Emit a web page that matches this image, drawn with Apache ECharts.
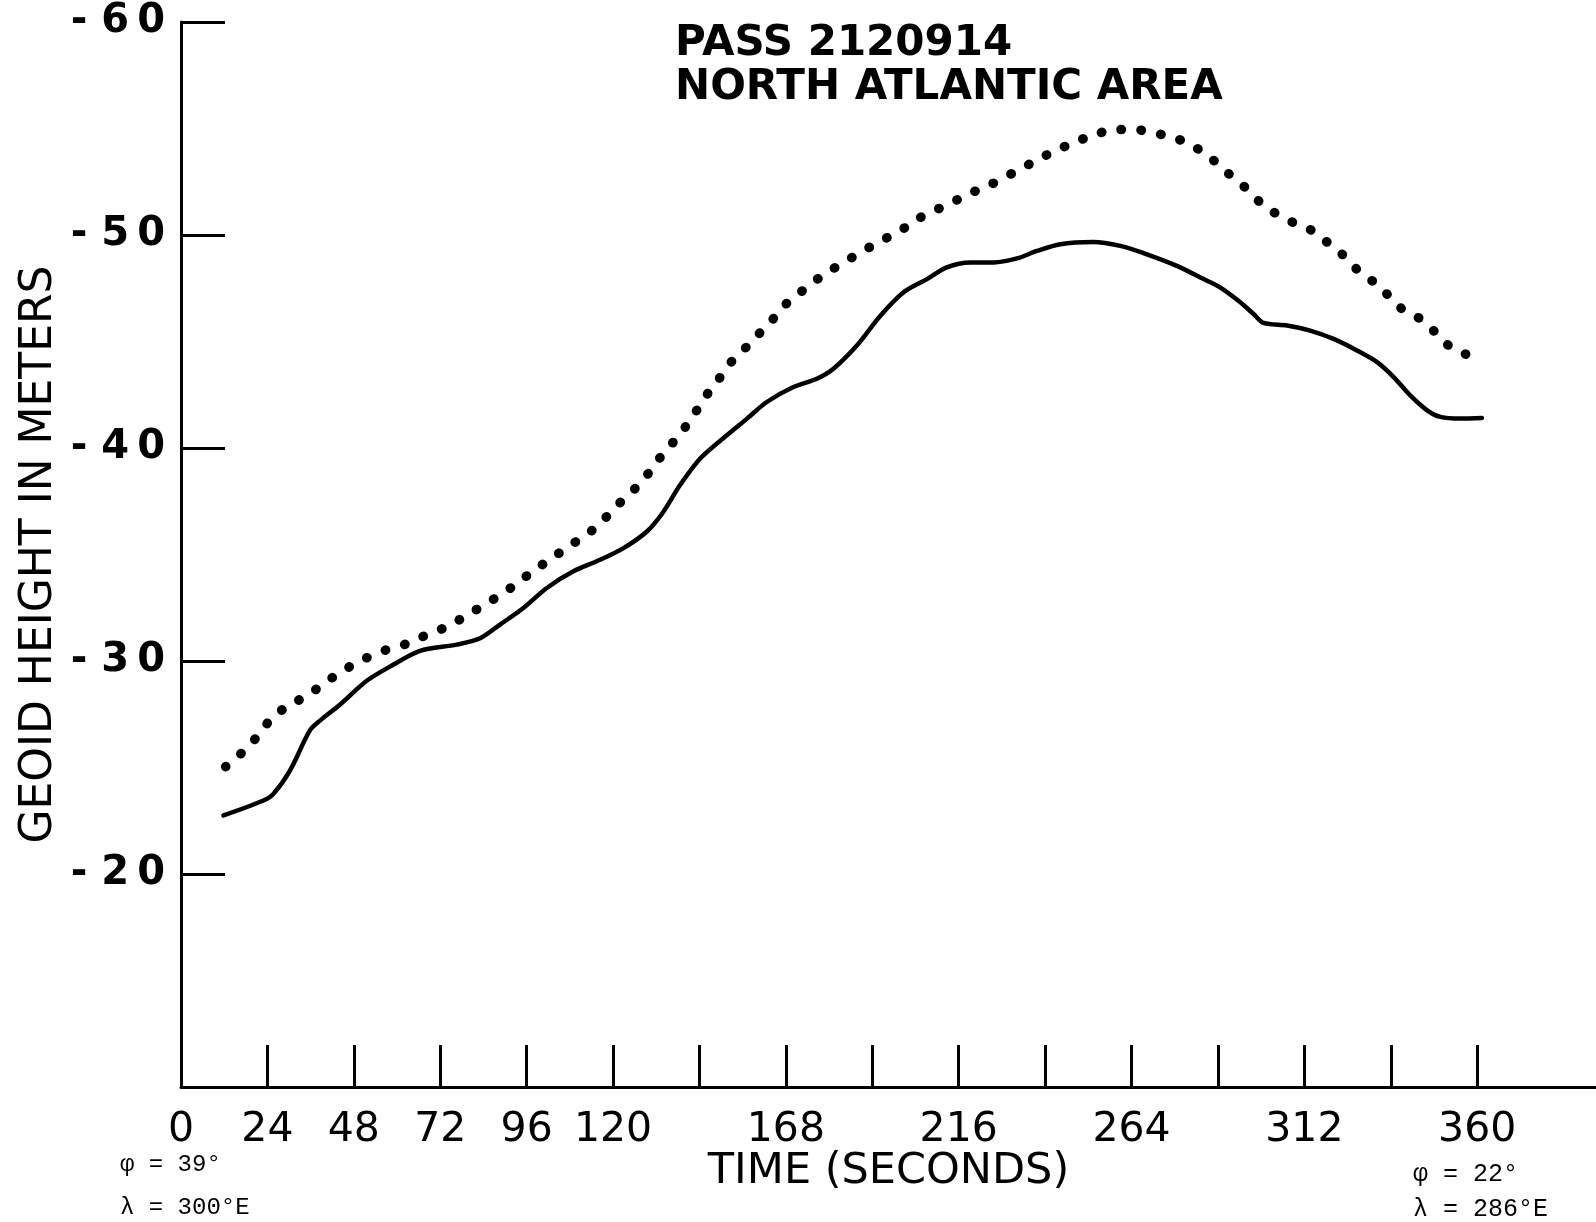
<!DOCTYPE html>
<html>
<head>
<meta charset="utf-8">
<title>Pass 2120914</title>
<script src="https://cdn.jsdelivr.net/npm/echarts@6/dist/echarts.min.js"></script>
<style>
  html, body { margin: 0; padding: 0; background: #fff; }
  #chart { width: 1596px; height: 1222px; }
</style>
</head>
<body>
<div id="chart"></div>
<script>
// solid curve
var solidTime = [11.8, 22.9, 25.6, 30.3, 35.8, 38.6, 44.2, 51.6, 58.9, 66.4, 76.6, 83.1, 88.6, 95.1,
  101.6, 109.0, 116.4, 122.9, 129.4, 134.0, 138.6, 144.2, 151.6, 157.2, 162.7, 170.1, 176.6, 181.2,
  187.7, 194.2, 200.7, 207.2, 212.7, 219.2, 225.7, 232.2, 237.7, 244.2, 253.4, 260.9, 267.3, 276.6,
  284.0, 288.6, 294.2, 297.9, 300.7, 307.2, 313.6, 320.1, 326.6, 332.2, 336.8, 341.4, 346.1, 349.8,
  355.3, 361.3]
var solidHeight = [-22.75, -23.45, -23.75, -24.87, -26.74, -27.2, -27.96, -29.07, -29.82, -30.48, -30.77, -31.07, -31.71, -32.49,
  -33.43, -34.21, -34.75, -35.3, -36.08, -37.01, -38.26, -39.51, -40.6, -41.38, -42.16, -42.86, -43.25, -43.72,
  -44.81, -46.2, -47.31, -47.93, -48.48, -48.71, -48.71, -48.9, -49.25, -49.57, -49.67, -49.49, -49.15, -48.55,
  -47.93, -47.54, -46.84, -46.29, -45.87, -45.75, -45.51, -45.12, -44.58, -44.03, -43.33, -42.47, -41.77, -41.46,
  -41.38, -41.41]

// dotted curve
var dottedTime = [12.4, 15.6, 19.2, 22.4, 26.3, 31.4, 36.8, 41.6, 46.3, 51.2, 56.8, 62.7, 68.4, 74.0, 79.4,
  83.9, 88.1, 92.8, 97.7, 103.0, 108.3, 113.2, 117.3, 121.0, 124.7, 128.4, 131.7, 135.6, 139.4, 142.5,
  145.8, 149.1, 152.3, 156.5, 159.9, 163.8, 167.5, 171.5, 175.2, 180.0, 184.5, 188.6, 192.8, 197.0, 201.6,
  205.3, 210.6, 215.8, 220.6, 225.5, 230.8, 236.0, 241.6, 247.2, 253.2, 259.5, 265.0, 270.1, 275.4, 280.3,
  285.4, 289.8, 293.7, 297.4, 301.2, 305.3, 309.9, 314.3, 319.0, 323.2, 327.3, 331.7, 335.4, 339.1, 344.2,
  348.3, 352.3, 357.0]
var dottedHeight = [-25.04, -25.5, -26.05, -26.75, -27.5, -28.03, -28.59, -29.17, -29.68, -30.12, -30.51, -30.81, -31.24, -31.62, -32.15,
  -32.6, -33.04, -33.58, -34.21, -34.83, -35.45, -36.0, -36.62, -37.28, -37.87, -38.49, -39.27, -40.05, -40.83, -41.58,
  -42.44, -43.17, -43.94, -44.65, -45.25, -45.93, -46.68, -47.23, -47.74, -48.3, -48.75, -49.18, -49.57, -49.96, -50.4,
  -50.82, -51.25, -51.67, -52.06, -52.42, -52.89, -53.36, -53.86, -54.28, -54.68, -54.95, -54.95, -54.79, -54.59, -54.25,
  -53.7, -53.04, -52.5, -51.95, -51.28, -50.92, -50.5, -50.19, -49.57, -48.99, -48.27, -47.74, -47.15, -46.53, -46.06,
  -45.44, -44.78, -44.39]

var xTickValues = [0, 24, 48, 72, 96, 120, 144, 168, 192, 216, 240, 264, 288, 312, 336, 360]
var xLabelValues = [0, 24, 48, 72, 96, 120, 168, 216, 264, 312, 360]
var yLabelValues = [-60, -50, -40, -30, -20]

function pairs(xs, ys) {
  var out = []
  for (var i = 0; i < xs.length; i++) {
    out.push([xs[i], ys[i]])
  }
  return out
}

var chart = echarts.init(document.getElementById('chart'), null, { renderer: 'canvas' })

var option = {
  animation: false,
  backgroundColor: '#fff',
  title: [
    {
      text: 'PASS 2120914\nNORTH ATLANTIC AREA',
      left: 675,
      top: 22,
      padding: 0,
      textStyle: { fontFamily: 'DejaVu Sans', fontWeight: 'bold', fontSize: 42, lineHeight: 44, color: '#000' }
    },
    {
      text: 'φ = 39°\nλ = 300°E',
      left: 120,
      top: 1143,
      padding: 0,
      textStyle: { fontFamily: 'Liberation Mono', fontWeight: 'normal', fontSize: 24, lineHeight: 43, color: '#000' }
    },
    {
      text: 'φ = 22°\nλ = 286°E',
      left: 1413,
      top: 1157,
      padding: 0,
      textStyle: { fontFamily: 'Liberation Mono', fontWeight: 'normal', fontSize: 25, lineHeight: 35, color: '#000' }
    }
  ],
  grid: {
    left: 181,
    right: 0,
    top: 22,
    bottom: 135,
    containLabel: false,
    outerBoundsMode: 'none'
  },
  xAxis: {
    type: 'value',
    min: 0,
    max: 393,
    interval: 24,
    name: 'TIME (SECONDS)',
    nameLocation: 'middle',
    nameGap: 63,
    nameMoveOverlap: false,
    nameTextStyle: { fontFamily: 'DejaVu Sans', fontSize: 43, color: '#000' },
    axisLine: { lineStyle: { color: '#000', width: 3 } },
    axisTick: {
      inside: true,
      length: 42,
      customValues: xTickValues,
      lineStyle: { color: '#000', width: 3 }
    },
    axisLabel: {
      customValues: xLabelValues,
      margin: 23,
      fontFamily: 'DejaVu Sans',
      fontSize: 41,
      color: '#000'
    },
    splitLine: { show: false }
  },
  yAxis: {
    type: 'value',
    inverse: true,
    min: -60,
    max: -10,
    interval: 10,
    name: 'GEOID HEIGHT IN METERS',
    nameLocation: 'middle',
    nameGap: 119,
    nameMoveOverlap: false,
    nameTextStyle: { fontFamily: 'DejaVu Sans', fontSize: 44, color: '#000' },
    axisLine: { lineStyle: { color: '#000', width: 3 } },
    axisTick: {
      inside: true,
      length: 44,
      customValues: yLabelValues,
      lineStyle: { color: '#000', width: 3 }
    },
    axisLabel: {
      customValues: yLabelValues,
      margin: 16,
      padding: [9, 0, 0, 0],
      fontFamily: 'DejaVu Sans',
      fontWeight: 'bold',
      fontSize: 40,
      color: '#000',
      formatter: function (v) {
        var s = String(Math.abs(v))
        return '- ' + s.charAt(0) + '\u2009' + s.charAt(1)
      }
    },
    splitLine: { show: false }
  },
  series: [
    {
      name: 'solid',
      type: 'line',
      data: pairs(solidTime, solidHeight),
      showSymbol: false,
      smooth: 0.3,
      lineStyle: { color: '#000', width: 4.5, cap: 'round', join: 'round' }
    },
    {
      name: 'dotted',
      type: 'line',
      data: pairs(dottedTime, dottedHeight),
      showSymbol: false,
      smooth: 0.3,
      lineStyle: { color: '#000', width: 9.5, type: [0.5, 19.5], cap: 'round' }
    }
  ]
}

chart.setOption(option)
</script>
</body>
</html>
